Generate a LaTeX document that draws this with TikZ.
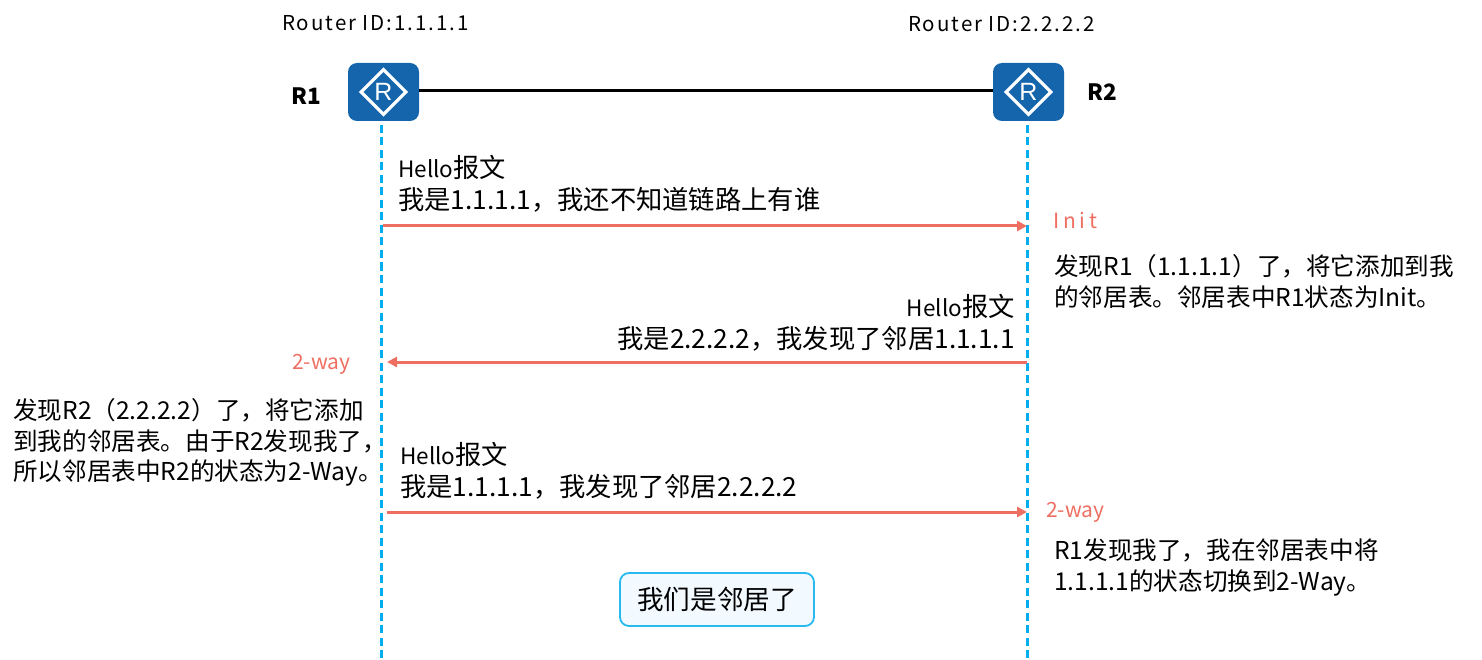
\documentclass[tikz,border=0pt]{standalone}
\usepackage{fontspec}
\setmainfont{Noto Sans CJK SC}
\newfontfamily\rfont{Liberation Sans}
\newcommand{\spaced}[1]{\addfontfeature{LetterSpace=#1}}
\newcommand{\hello}{{\fontsize{22.5}{32}\selectfont Hello}}
\usepackage{tikz}
\usetikzlibrary{arrows.meta,shapes.geometric,positioning}
\definecolor{rblue}{HTML}{1565AD}
\definecolor{lifeblue}{HTML}{00AEEF}
\definecolor{msgred}{HTML}{EE6F61}
\definecolor{noteblue}{HTML}{F3FAFF}
\tikzset{
  x=1pt,y=-1pt,
  router/.style={draw=none,fill=rblue,rounded corners=9pt,minimum width=71pt,minimum height=58pt,inner sep=0pt},
  rdiamond/.style={diamond,draw=white,line width=3.2pt,aspect=1,minimum width=46pt,minimum height=46pt,inner sep=0pt,text=white,font=\rfont\fontsize{25}{25}\selectfont},
  lifeline/.style={draw=lifeblue,line width=3pt,dash pattern=on 8pt off 4.5pt},
  link/.style={draw=black,line width=3pt},
  msg/.style={draw=msgred,line width=3pt,-{Triangle[length=10pt,width=10pt]}},
  idtext/.style={anchor=west,inner sep=0pt,font=\fontsize{20.5}{24}\selectfont\spaced{9.5}},
  namet/.style={anchor=west,inner sep=0pt,font=\fontsize{22.5}{24}\selectfont\bfseries},
  bigt/.style={inner sep=0pt,font=\fontsize{26.3}{32}\selectfont},
  smallt/.style={anchor=north west,align=left,inner sep=0pt,font=\fontsize{24.6}{30.5}\selectfont},
  state/.style={anchor=west,inner sep=0pt,text=msgred,font=\fontsize{21}{24}\selectfont},
  notebox/.style={draw=lifeblue!85,fill=noteblue,line width=1.8pt,rounded corners=9pt,minimum width=194pt,minimum height=53pt,inner sep=0pt,font=\fontsize{26.6}{30}\selectfont}
}
\begin{document}
\begin{tikzpicture}
\useasboundingbox (0,0) rectangle (1482,660);
% routers
\node[router] (r1) at (383.5,92) {};
\node[router] (r2) at (1028.5,92) {};
\node[rdiamond] (d1) at (383.5,92) {R};
\node[rdiamond] (d2) at (1028.5,92) {R};
\draw[link] (r1.east |- 0,91) -- (r2.west |- 0,91);
% lifelines
\coordinate (l1top) at (381,125);
\coordinate (l1bot) at (381,660);
\coordinate (l2top) at (1027,125);
\coordinate (l2bot) at (1027,660);
\draw[lifeline] (l1top) -- (l1bot);
\draw[lifeline] (l2top) -- (l2bot);
% message endpoints
\coordinate (a1s) at (383,226);
\coordinate (a1e) at (1027,226);
\coordinate (a2s) at (1027,362);
\coordinate (a2e) at (387,362);
\coordinate (a3s) at (387,512);
\coordinate (a3e) at (1027,512);
\draw[msg] (a1s) -- (a1e);
\draw[msg] (a2s) -- (a2e);
\draw[msg] (a3s) -- (a3e);
% labels
\node[idtext] (id1) at (282,23) {Router ID:1.1.1.1};
\node[idtext] (id2) at (908,24) {Router ID:2.2.2.2};
\node[namet] (n1) at (291,96) {R1};
\node[namet] (n2) at (1087,92) {R2};
\node[bigt,anchor=north west,align=left] (m1) at (398,155) {\hello 报文\\我是1.1.1.1，我还不知道链路上有谁};
\node[bigt,anchor=north east,align=right] (m2) at (1015,294) {\hello 报文\\我是2.2.2.2，我发现了邻居1.1.1.1};
\node[bigt,anchor=north west,align=left] (m3) at (400,442) {\hello 报文\\我是1.1.1.1，我发现了邻居2.2.2.2};
\node[state,font=\fontsize{21}{24}\selectfont\spaced{18}] (s1) at (1053,220) {Init};
\node[state] (s2) at (292,364) {2-way};
\node[state] (s3) at (1046,512) {2-way};
\node[smallt] (t1) at (1054,254.5) {发现R1（1.1.1.1）了，将它添加到我\\的邻居表。邻居表中R1状态为Init。};
\node[smallt] (t2) at (13,398.5) {发现R2（2.2.2.2）了，将它添加\\到我的邻居表。由于R2发现我了，\\所以邻居表中R2的状态为2-Way。};
\node[smallt] (t3) at (1054,539) {R1发现我了，我在邻居表中将\\1.1.1.1的状态切换到2-Way。};
\node[notebox] (nb) at (717,599.5) {我们是邻居了};
\end{tikzpicture}
\end{document}
